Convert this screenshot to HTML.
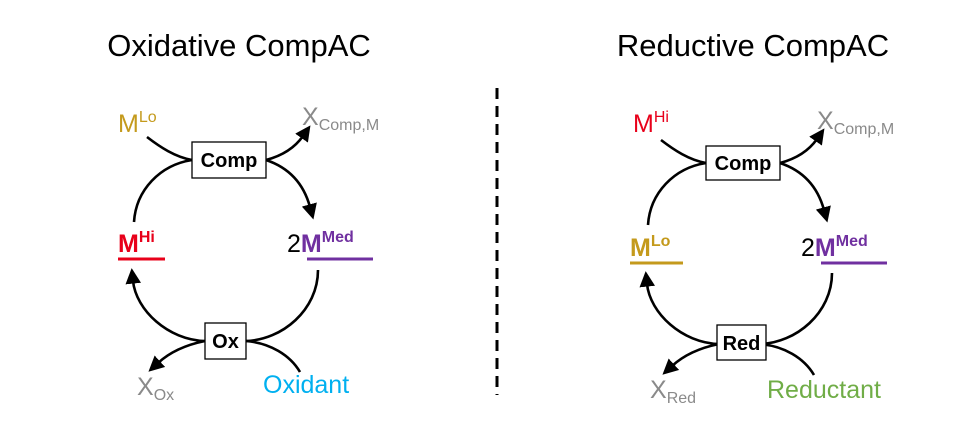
<!DOCTYPE html>
<html><head><meta charset="utf-8"><style>
html,body{margin:0;padding:0;background:#fff;}
svg{display:block;font-family:"Liberation Sans",Arial,sans-serif;}
</style></head><body>
<svg width="973" height="427" viewBox="0 0 973 427" xmlns="http://www.w3.org/2000/svg">
<defs>
<marker id="ah" markerWidth="6" markerHeight="6" refX="1" refY="3" orient="auto" markerUnits="strokeWidth">
<path d="M0,0 L6,3 L0,6 z" fill="#000"/>
</marker>
</defs>
<rect width="973" height="427" fill="#fff"/>
<text x="239" y="56" font-size="31" text-anchor="middle">Oxidative CompAC</text>
<text x="753" y="56" font-size="31" text-anchor="middle">Reductive CompAC</text>
<line x1="497" y1="88" x2="497" y2="395" stroke="#000" stroke-width="3" stroke-dasharray="11,7"/>

<g id="cyc" fill="none" stroke="#000" stroke-width="2.6">
<path d="M147,137 C160,147 175,157 192,160"/>
<path d="M192,160 C160,165 136,190 134,222"/>
<path d="M266,160 C285,155 296,146 303,136" marker-end="url(#ah)"/>
<path d="M266,160 C290,168 304,185 310,207" marker-end="url(#ah)"/>
<path d="M318,270 C318,310 282,340 246,341"/>
<path d="M246,341 C270,343 290,355 300,372"/>
<path d="M205,341 C168,340 136,310 133,281" marker-end="url(#ah)"/>
<path d="M205,341 C185,345 170,352 158,363" marker-end="url(#ah)"/>
</g>
<use href="#cyc" transform="translate(514,3)"/>

<rect x="192" y="142" width="74" height="36" fill="#fff" stroke="#000" stroke-width="1.3"/>
<text x="229" y="167" font-size="20" font-weight="bold" text-anchor="middle">Comp</text>
<rect x="205" y="323" width="41" height="36" fill="#fff" stroke="#000" stroke-width="1.3"/>
<text x="225.5" y="348" font-size="20" font-weight="bold" text-anchor="middle">Ox</text>
<rect x="706" y="146" width="74" height="34" fill="#fff" stroke="#000" stroke-width="1.3"/>
<text x="743" y="170" font-size="20" font-weight="bold" text-anchor="middle">Comp</text>
<rect x="717" y="325" width="49" height="35" fill="#fff" stroke="#000" stroke-width="1.3"/>
<text x="741.5" y="350" font-size="20" font-weight="bold" text-anchor="middle">Red</text>

<text x="118" y="132" font-size="25" fill="#C49A1C">M<tspan font-size="16" dy="-10">Lo</tspan></text>
<text x="302" y="125" font-size="25" fill="#8a8a8a">X<tspan font-size="16" dy="5">Comp,M</tspan></text>
<text x="118" y="252" font-size="25" font-weight="bold" fill="#E8001A">M<tspan font-size="16" dy="-10">Hi</tspan></text>
<line x1="118" y1="259" x2="165" y2="259" stroke="#E8001A" stroke-width="3"/>
<text x="287" y="252" font-size="25">2<tspan font-weight="bold" fill="#7030A0">M</tspan><tspan font-size="16" dy="-10" font-weight="bold" fill="#7030A0">Med</tspan></text>
<line x1="307" y1="259" x2="373" y2="259" stroke="#7030A0" stroke-width="3"/>
<text x="137" y="395" font-size="25" fill="#8a8a8a">X<tspan font-size="16" dy="5">Ox</tspan></text>
<text x="263" y="393" font-size="25" fill="#00B0F0">Oxidant</text>

<text x="633" y="132" font-size="25" fill="#E8001A">M<tspan font-size="16" dy="-10">Hi</tspan></text>
<text x="817" y="129" font-size="25" fill="#8a8a8a">X<tspan font-size="16" dy="5">Comp,M</tspan></text>
<text x="630" y="256" font-size="25" font-weight="bold" fill="#C49A1C">M<tspan font-size="16" dy="-10">Lo</tspan></text>
<line x1="630" y1="263" x2="683" y2="263" stroke="#C49A1C" stroke-width="3"/>
<text x="801" y="256" font-size="25">2<tspan font-weight="bold" fill="#7030A0">M</tspan><tspan font-size="16" dy="-10" font-weight="bold" fill="#7030A0">Med</tspan></text>
<line x1="821" y1="263" x2="887" y2="263" stroke="#7030A0" stroke-width="3"/>
<text x="650" y="398" font-size="25" fill="#8a8a8a">X<tspan font-size="16" dy="5">Red</tspan></text>
<text x="767" y="398" font-size="25" fill="#70AD47">Reductant</text>
</svg>
</body></html>
